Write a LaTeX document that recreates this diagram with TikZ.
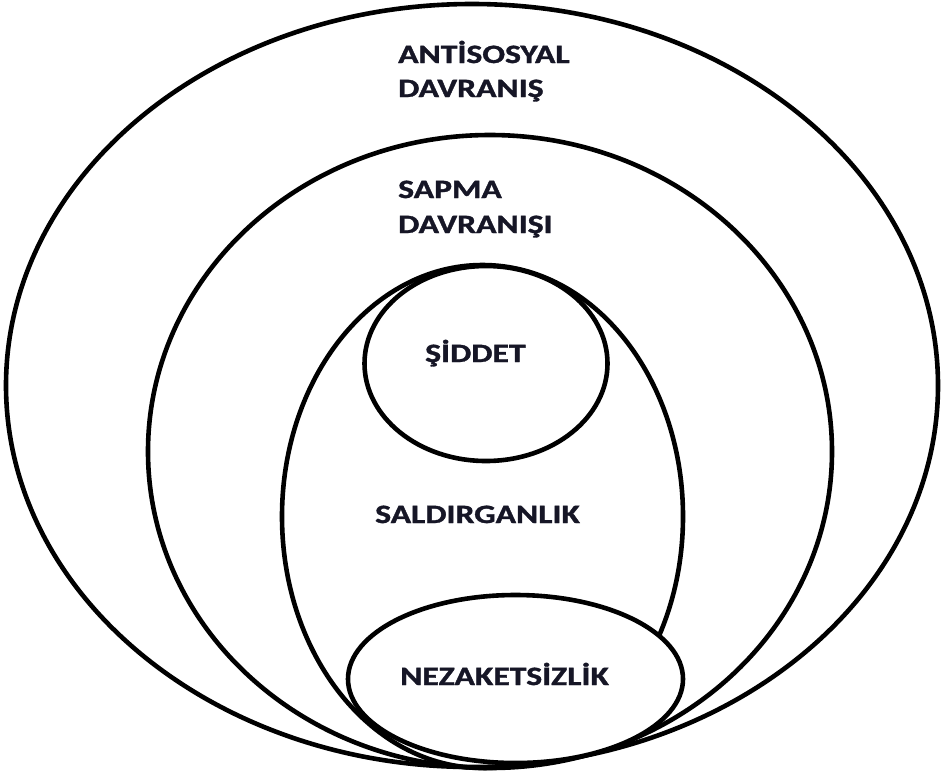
\documentclass[tikz,border=0pt]{standalone}
\usepackage{fontspec}
\setmainfont{Carlito}[BoldFont={Carlito Bold}, BoldFeatures={FakeBold=1.2}]
\definecolor{txt}{RGB}{22,22,38}
\begin{document}
\begin{tikzpicture}[x=1pt,y=-1pt,
  ring/.style={draw=black, line width=4.6pt},
  lbl/.style={anchor=base west, inner sep=0pt, text=txt, font=\fontsize{26.5}{30}\selectfont\bfseries}]
\useasboundingbox (0,0) rectangle (942,772);
\fill[white] (0,0) rectangle (942,772);
% outer
\draw[ring] (472,385.5) ellipse [x radius=466, y radius=381.5];
% second
\draw[ring] (490,451.5) ellipse [x radius=342, y radius=316.5];
% third (egg)
\draw[ring] (482.5,516.5) ellipse [x radius=200.5, y radius=251.5];
% siddet
\draw[ring, fill=white] (486,363.5) ellipse [x radius=121.5, y radius=97.5];
% nezaketsizlik
\draw[ring, fill=white] (515.5,679) ellipse [x radius=167.5, y radius=84];
\node[lbl] (a1) at (398,63) {\scalebox{1.27}[1]{ANTİSOSYAL}};
\node[lbl] (a2) at (398,97) {\scalebox{1.27}[1]{DAVRANIŞ}};
\node[lbl] (s1) at (398,198) {\scalebox{1.27}[1]{SAPMA}};
\node[lbl] (s2) at (398,233) {\scalebox{1.27}[1]{DAVRANIŞI}};
\node[lbl] (sd) at (425,362) {\scalebox{1.27}[1]{ŞİDDET}};
\node[lbl] (sl) at (375,523) {\scalebox{1.27}[1]{SALDIRGANLIK}};
\node[lbl] (nz) at (400,685) {\scalebox{1.27}[1]{NEZAKETSİZLİK}};
\end{tikzpicture}
\end{document}
